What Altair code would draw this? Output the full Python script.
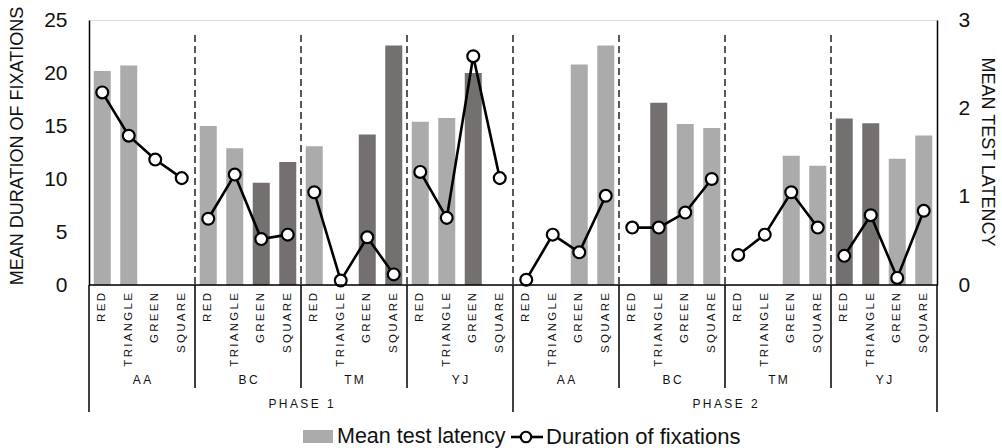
import altair as alt
import pandas as pd

phases = ["PHASE 1", "PHASE 2"]
groups = ["AA", "BC", "TM", "YJ"]
conditions = ["RED", "TRIANGLE", "GREEN", "SQUARE"]

# Mean test latency (bars, left axis); None = no bar
latency = [
    20.2, 20.7, None, None,
    15.0, 12.9, 9.65, 11.6,
    13.1, None, 14.2, 22.6,
    15.4, 15.75, 20.0, None,
    None, None, 20.8, 22.6,
    None, 17.2, 15.2, 14.8,
    None, None, 12.2, 11.25,
    15.7, 15.25, 11.9, 14.1,
]
# bar shade: 1 = dark
dark = [
    0, 0, 0, 0,
    0, 0, 1, 1,
    0, 0, 1, 1,
    0, 0, 1, 0,
    0, 0, 0, 0,
    0, 1, 0, 0,
    0, 0, 0, 0,
    1, 1, 0, 0,
]
# Duration of fixations (line, right axis)
duration = [
    2.18, 1.69, 1.42, 1.21,
    0.75, 1.25, 0.52, 0.57,
    1.05, 0.05, 0.54, 0.12,
    1.28, 0.76, 2.59, 1.21,
    0.06, 0.57, 0.37, 1.01,
    0.65, 0.65, 0.82, 1.20,
    0.34, 0.57, 1.05, 0.65,
    0.33, 0.79, 0.08, 0.84,
]

left_ticks = [0, 5, 10, 15, 20, 25]
right_ticks = [0, 1, 2, 3]
left_title = "MEAN DURATION OF FIXATIONS"
right_title = "MEAN TEST LATENCY"
legend_bar = "Mean test latency"
legend_line = "Duration of fixations"

FONT = "Liberation Sans"
SP = "\u2009"
LIGHT = "#ababab"
DARK = "#747070"
INK = "#111111"

rows = []
i = 0
for p in phases:
    for g in groups:
        for c in conditions:
            rows.append({
                "pos": i + 0.5,
                "phase": p,
                "group": p + g,
                "cond": SP.join(c),
                "latency": latency[i],
                "shade": "dark" if dark[i] else "light",
                "duration": duration[i],
            })
            i += 1
df = pd.DataFrame(rows)

grp_rows = []
for pi, p in enumerate(phases):
    for gi, g in enumerate(groups):
        grp_rows.append({"pos": pi * 16 + gi * 4 + 2, "label": SP.join(g)})
grp_df = pd.DataFrame(grp_rows)
ph_df = pd.DataFrame({"pos": [8, 24], "label": [SP.join(p) for p in phases]})

dash_df = pd.DataFrame({"pos": [4, 8, 12, 16, 20, 24, 28]})
gsep_df = pd.DataFrame({"pos": [4, 8, 12, 20, 24, 28]})
psep_df = pd.DataFrame({"pos": [0, 16, 32]})

W, H = 848, 265
xs = alt.Scale(domain=[0, 32], nice=False, zero=False, padding=0)
X = alt.X("pos:Q", scale=xs, axis=None)

base = alt.Chart(df)

bars = base.mark_bar(width=17).encode(
    x=X,
    y=alt.Y("latency:Q", scale=alt.Scale(domain=[0, 25], nice=False),
            axis=alt.Axis(values=left_ticks, title=None,
                          orient="left", domain=True, domainColor="black", domainWidth=1.5,
                          ticks=False, grid=False, labelPadding=22, labelFontSize=21,
                          labelFont=FONT, labelColor=INK)),
    color=alt.Color("shade:N", scale=alt.Scale(domain=["light", "dark"], range=[LIGHT, DARK]), legend=None),
)

dashes = alt.Chart(dash_df).mark_rule(color="#222", strokeWidth=1.5, strokeDash=[7, 4]).encode(
    x=X, y=alt.value(15), y2=alt.value(H)
)

line = base.mark_line(color="black", strokeWidth=2.6).encode(
    x=X,
    y=alt.Y("duration:Q", scale=alt.Scale(domain=[0, 3], nice=False),
            axis=alt.Axis(values=right_ticks, title=None, orient="right",
                          domain=True, domainColor="black", domainWidth=1.5, ticks=False, grid=False,
                          labelPadding=21, labelFontSize=21, labelFont=FONT, labelColor=INK)),
    detail="group:N",
)
pts = base.mark_point(filled=True, fill="white", stroke="black", strokeWidth=2.2, size=140, opacity=1).encode(
    x=X,
    y=alt.Y("duration:Q", scale=alt.Scale(domain=[0, 3], nice=False), axis=None),
)

xline = alt.Chart(pd.DataFrame({"a": [0]})).mark_rule(color="black", strokeWidth=1.5).encode(
    x=alt.value(0), x2=alt.value(W), y=alt.value(H)
)
gsep = alt.Chart(gsep_df).mark_rule(color="black", strokeWidth=1.5).encode(
    x=X, y=alt.value(H), y2=alt.value(368)
)
psep = alt.Chart(psep_df).mark_rule(color="black", strokeWidth=1.5).encode(
    x=X, y=alt.value(H), y2=alt.value(392)
)

cat_text = base.mark_text(angle=270, align="right", baseline="middle", font=FONT, fontSize=11.5, color=INK).encode(
    x=X, y=alt.value(273), text="cond:N"
)
grp_text = alt.Chart(grp_df).mark_text(baseline="middle", font=FONT, fontSize=12, color=INK).encode(
    x=X, y=alt.value(360), text="label:N"
)
ph_text = alt.Chart(ph_df).mark_text(baseline="middle", font=FONT, fontSize=12, color=INK).encode(
    x=X, y=alt.value(384), text="label:N"
)

one = alt.Chart(pd.DataFrame({"a": [0]}))
ltitle = one.mark_text(angle=270, align="center", baseline="middle", font=FONT, fontSize=18, color=INK).encode(
    x=alt.value(-71), y=alt.value(126), text=alt.value(left_title))
rtitle = one.mark_text(angle=90, align="center", baseline="middle", font=FONT, fontSize=18, color=INK).encode(
    x=alt.value(898), y=alt.value(132), text=alt.value(right_title))

leg_rect = one.mark_rect(color=LIGHT).encode(x=alt.value(214), x2=alt.value(244), y=alt.value(410), y2=alt.value(423))
leg_t1 = one.mark_text(align="left", baseline="middle", font=FONT, fontSize=21.5, color=INK).encode(
    x=alt.value(248), y=alt.value(417), text=alt.value(legend_bar))
leg_line = one.mark_rule(color="black", strokeWidth=2.6).encode(x=alt.value(422), x2=alt.value(454), y=alt.value(417))
leg_pt = one.mark_point(filled=True, fill="white", stroke="black", strokeWidth=2.2, size=110, opacity=1).encode(
    x=alt.value(437), y=alt.value(417))
leg_t2 = one.mark_text(align="left", baseline="middle", font=FONT, fontSize=22, color=INK).encode(
    x=alt.value(457), y=alt.value(417), text=alt.value(legend_line))

chart = alt.layer(
    bars, dashes, line, pts, xline, gsep, psep, cat_text, grp_text, ph_text,
    ltitle, rtitle, leg_rect, leg_t1, leg_line, leg_pt, leg_t2
).resolve_scale(y="independent").properties(
    width=W, height=H,
    autosize=alt.AutoSizeParams(type="none"),
    padding={"left": 89, "top": 20, "right": 65, "bottom": 163},
).configure_view(stroke=None).configure(background="white")

chart.save("out.html", embed_options={"renderer": "svg", "actions": False})
